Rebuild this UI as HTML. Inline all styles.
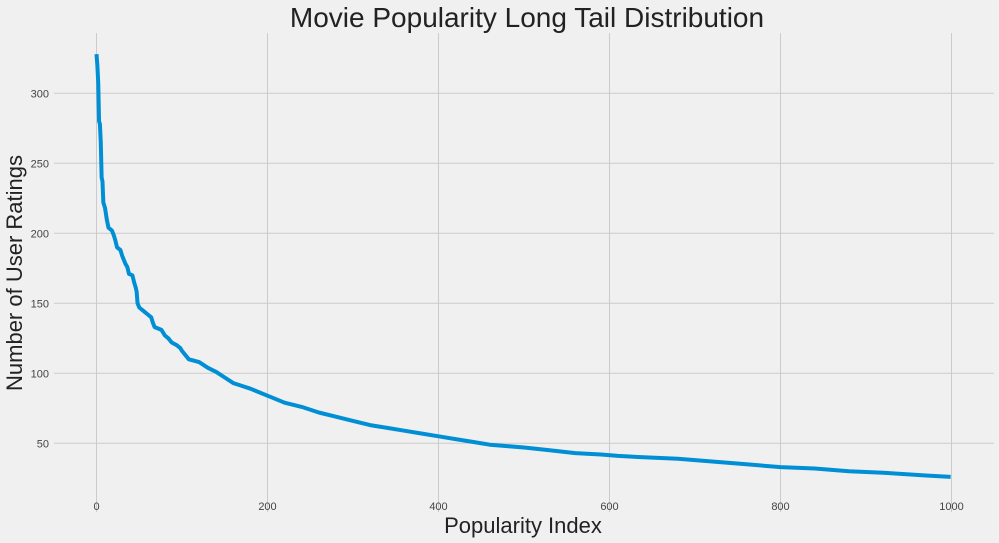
<!DOCTYPE html>
<html><head><meta charset="utf-8"><style>
body{margin:0;background:#f0f0f0;}
svg{display:block;font-family:"Liberation Sans","DejaVu Sans",sans-serif;}
</style></head><body>
<svg width="999" height="543" id="c">
<rect width="999" height="543" fill="#f0f0f0"/>
<g id="grid"></g><g id="ticks"></g>
<text x="527" y="27" font-size="28" text-anchor="middle" fill="#222">Movie Popularity Long Tail Distribution</text>
<text x="523" y="533" font-size="22" text-anchor="middle" fill="#222">Popularity Index</text>
<text transform="translate(22,273) rotate(-90)" font-size="22" text-anchor="middle" fill="#222">Number of User Ratings</text>
<polyline id="line" fill="none" stroke="#008fd5" stroke-width="4" stroke-linejoin="round"/>
</svg>
<script>
const idx=[0,1,2,3,4,5,6,7,8,10,12,14,18,20,22,24,28,30,34,36,38,42,44,46,47,48,50,56,60,64,66,68,72,76,80,84,88,94,98,100,104,108,120,130,140,150,160,170,180,200,220,240,260,280,300,320,340,360,380,400,420,440,460,480,500,530,560,590,610,640,680,720,760,800,840,880,920,970,999];
const ratings=[328,320,308,280,278,265,240,237,222,218,210,204,202,199,195,190,188,184,178,176,171,170,165,161,158,150,147,144,142,140,136,133,132,131,127,125,122,120,118,116,113,110,108,104,101,97,93,91,89,84,79,76,72,69,66,63,61,59,57,55,53,51,49,48,47,45,43,42,41,40,39,37,35,33,32,30,29,27,26];
const xTicks=[0,200,400,600,800,1000];
const yTicks=[50,100,150,200,250,300];
const X=v=>96.5+v*0.855, Y=v=>513.3-v*1.4;
const ns="http://www.w3.org/2000/svg";
const g=document.getElementById('grid'), t=document.getElementById('ticks');
xTicks.forEach(v=>{
  const l=document.createElementNS(ns,'line');
  l.setAttribute('x1',X(v));l.setAttribute('x2',X(v));l.setAttribute('y1',33);l.setAttribute('y2',512);
  l.setAttribute('stroke','#cbcbcb');l.setAttribute('stroke-width','1');
  
  
  g.appendChild(l);
  const s=document.createElementNS(ns,'text');
  s.setAttribute('x',X(v));s.setAttribute('y',510);s.setAttribute('font-size','11');s.setAttribute('text-anchor','middle');s.setAttribute('fill','#444');
  s.textContent=v;
  
  
  t.appendChild(s);
});
yTicks.forEach(v=>{
  const l=document.createElementNS(ns,'line');
  l.setAttribute('y1',Y(v));l.setAttribute('y2',Y(v));l.setAttribute('x1',54);l.setAttribute('x2',994);
  l.setAttribute('stroke','#cbcbcb');l.setAttribute('stroke-width','1');
  
  
  g.appendChild(l);
  const s=document.createElementNS(ns,'text');
  s.setAttribute('x',49);s.setAttribute('y',Y(v)+4);s.setAttribute('font-size','11');s.setAttribute('text-anchor','end');s.setAttribute('fill','#444');
  s.textContent=v;
  
  
  t.appendChild(s);
});
document.getElementById('line').setAttribute('points',idx.map((v,i)=>X(v)+','+Y(ratings[i])).join(' '));
</script>
</body></html>
